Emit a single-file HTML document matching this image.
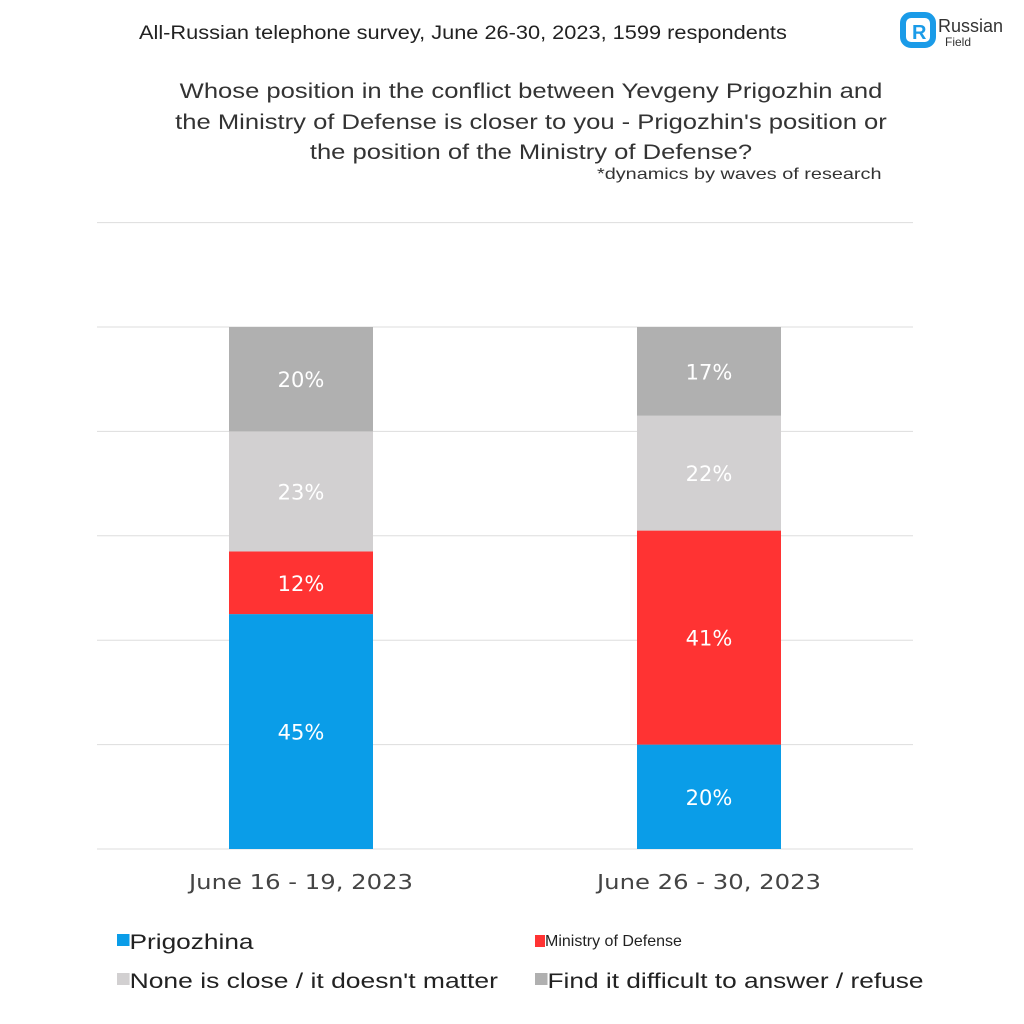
<!DOCTYPE html>
<html><head><meta charset="utf-8"><style>
body{margin:0;background:#fff;font-family:"Liberation Sans",sans-serif;}
#root{position:relative;width:1024px;height:1024px;overflow:hidden;background:#fff}
.t{position:absolute;white-space:nowrap;color:#222}
.leg{transform-origin:left center}
</style></head><body>
<div id="root">
<div class="t" style="left:139px;top:23px;font-size:19px;transform:scaleX(1.145);transform-origin:left">All-Russian telephone survey, June 26-30, 2023, 1599 respondents</div>
<div style="position:absolute;left:900px;top:12px;width:110px;height:42px">
<svg width="110" height="42"><rect x="3" y="3" width="30" height="30" rx="8" fill="none" stroke="#1a9be8" stroke-width="6"/><text x="12" y="27" font-size="20" font-weight="bold" fill="#1a9be8" font-family="Liberation Sans">R</text><text x="38" y="20" font-size="18" fill="#333" font-family="Liberation Sans">Russian</text><text x="45" y="34" font-size="12" fill="#333" font-family="Liberation Sans">Field</text></svg></div>
<div class="t" style="left:131px;top:76px;width:800px;text-align:center;font-size:21.5px;line-height:30.5px;white-space:normal;color:#333;transform:scaleX(1.19);transform-origin:center">Whose position in the conflict between Yevgeny Prigozhin and<br>the Ministry of Defense is closer to you - Prigozhin's position or<br>the position of the Ministry of Defense?</div>
<div class="t" style="left:597px;top:166px;font-size:16px;color:#333;transform:scaleX(1.24);transform-origin:left">*dynamics by waves of research</div>
<svg id="plot" width="1024" height="1024" style="position:absolute;left:0;top:0"></svg>
<div>
<div class="t leg" style="left:117px;top:931px;font-size:21px;transform:scaleX(1.25)"><span style="display:inline-block;width:10px;height:12px;background:#0a9de8;vertical-align:top;margin-top:3px"></span>Prigozhina</div>
<div class="t leg" style="left:535px;top:933px;font-size:16px;transform:scaleX(1.0)"><span style="display:inline-block;width:10px;height:12px;background:#f33;vertical-align:top;margin-top:2px"></span>Ministry of Defense</div>
<div class="t leg" style="left:117px;top:970px;font-size:21px;transform:scaleX(1.26)"><span style="display:inline-block;width:10px;height:12px;background:#d2d0d1;vertical-align:top;margin-top:3px"></span>None is close / it doesn't matter</div>
<div class="t leg" style="left:535px;top:970px;font-size:21px;transform:scaleX(1.25)"><span style="display:inline-block;width:10px;height:12px;background:#b0b0b0;vertical-align:top;margin-top:3px"></span>Find it difficult to answer / refuse</div>
</div>
</div>
<script>
const categories=["June 16 - 19, 2023","June 26 - 30, 2023"];
const prigozhin=[45,20];
const ministry=[12,41];
const none=[23,22];
const difficult=[20,17];
const gridTicks=[0,20,40,60,80,100,120];
const NS="http://www.w3.org/2000/svg";
const svg=document.getElementById('plot');
const y0=849,pxPer=5.22,x0=97,x1=913;
const y=v=>y0-v*pxPer;
const bw=144;
const xc=i=>x0+(x1-x0)*(i+0.5)/categories.length;
function mk(t,a){const e=document.createElementNS(NS,t);for(const k in a)e.setAttribute(k,a[k]);svg.appendChild(e);return e;}
gridTicks.forEach(v=>{const l=mk('line',{x1:x0,x2:x1,y1:y(v),y2:y(v),stroke:'#ddd','stroke-width':1});

});
const series=[[prigozhin,'#0a9de8','prigozhin'],[ministry,'#f33','ministry'],[none,'#d2d0d1','none'],[difficult,'#b0b0b0','difficult']];
categories.forEach((c,i)=>{
 let cum=0;
 series.forEach(([arr,col,nm])=>{
  const v=arr[i];
  const r=mk('rect',{x:xc(i)-bw/2,y:y(cum+v),width:bw,height:v*pxPer,fill:col});
  
  
  const t=mk('text',{x:xc(i),y:y(cum+v/2)+8,'text-anchor':'middle',fill:'#fff','font-size':21,'font-family':'DejaVu Sans'});
  t.textContent=v+'%';
  
  
  cum+=v;
 });
 const lab=mk('text',{x:xc(i)-112,y:889,fill:'#444','font-size':20,'font-family':'DejaVu Sans',textLength:224,lengthAdjust:'spacingAndGlyphs'});
 lab.textContent=c;
 
 
});
</script>
</body></html>
